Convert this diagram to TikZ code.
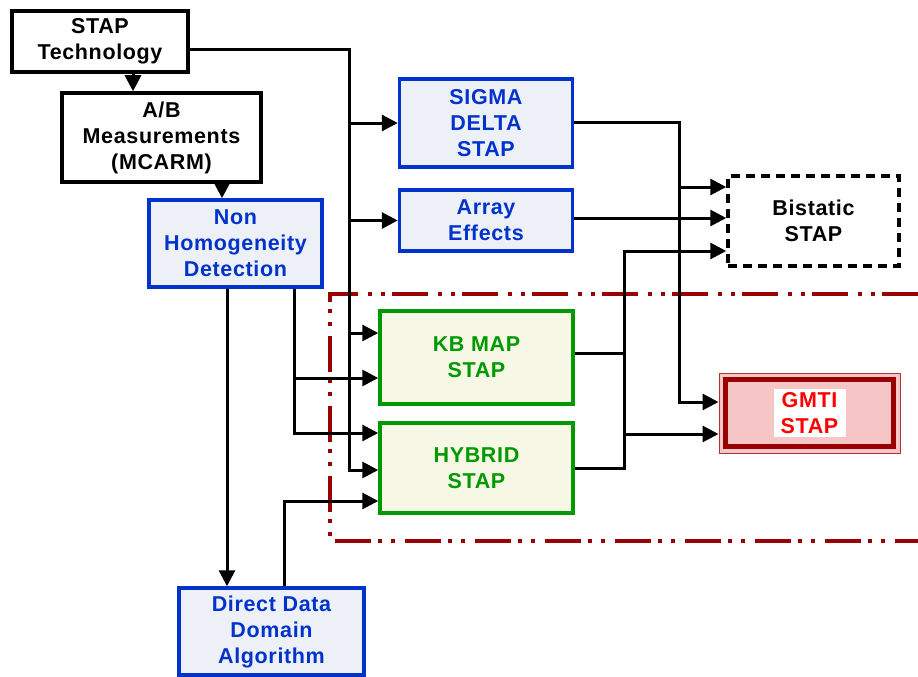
\documentclass[tikz,border=0pt]{standalone}
\usepackage{fontspec}
\setmainfont[LetterSpace=3]{Liberation Sans}
\usetikzlibrary{arrows.meta}
\definecolor{bblue}{HTML}{0033CC}
\definecolor{bfill}{HTML}{EEF0F7}
\definecolor{ggreen}{HTML}{009900}
\definecolor{gfill}{HTML}{F7F7E6}
\definecolor{dred}{HTML}{990000}
\definecolor{pfill}{HTML}{F6C6C6}
\definecolor{tred}{HTML}{FF0000}
\begin{document}
\begin{tikzpicture}[x=1pt,y=-1pt,
  txt/.style={font=\fontsize{21.5}{26}\selectfont\bfseries, align=center, inner sep=0pt},
  blackbox/.style={txt, draw=black, line width=3.5pt, fill=white},
  bluebox/.style={txt, draw=bblue, line width=3.5pt, fill=bfill, text=bblue},
  greenbox/.style={txt, draw=ggreen, line width=3.5pt, fill=gfill, text=ggreen},
  dashbox/.style={txt, draw=black, line width=3.5pt, dash pattern=on 9pt off 6pt, fill=white},
  conn/.style={line width=3pt, draw=black},
  arr/.style={conn, -{Triangle[length=16pt,width=16pt]}},
  reddash/.style={draw=dred, line width=4pt, dash pattern=on 36pt off 7pt on 4pt off 9pt on 4pt off 10pt}]
\useasboundingbox (0,0) rectangle (918,677);

% red dash-dot region
\draw[reddash] (918,294) -- (330,294) -- (330,541) -- (918,541);

% nodes
\node[blackbox, minimum width=176pt, minimum height=61pt] (tech) at (100,41.5) {STAP\\Technology};
\node[blackbox, minimum width=199pt, minimum height=89pt] (ab) at (161.5,137.5) {A/B\\Measurements\\(MCARM)};
\node[bluebox, minimum width=173pt, minimum height=87pt] (nhd) at (235.5,243.5) {Non\\Homogeneity\\Detection};
\node[bluebox, minimum width=173pt, minimum height=88pt] (sigma) at (486,123) {SIGMA\\DELTA\\STAP};
\node[bluebox, minimum width=173pt, minimum height=61pt] (array) at (486,220.5) {Array\\Effects};
\node[dashbox, minimum width=171pt, minimum height=90pt] (bist) at (813.5,221) {Bistatic\\STAP};
\node[greenbox, minimum width=193pt, minimum height=93pt] (kb) at (476.5,357.5) {KB MAP\\STAP};
\node[greenbox, minimum width=193pt, minimum height=90pt] (hyb) at (476.5,468) {HYBRID\\STAP};
\node[bluebox, minimum width=185pt, minimum height=87pt] (ddd) at (271.5,631.5) {Direct Data\\Domain\\Algorithm};
\node[draw=dred!80, line width=1pt, fill=pfill, minimum width=181pt, minimum height=80pt, inner sep=0pt] (gmti) at (809.5,413) {};
\draw[draw=dred, line width=5pt] ([xshift=7pt,yshift=-7pt]gmti.north west) rectangle ([xshift=-7pt,yshift=7pt]gmti.south east);
\node[txt, fill=white, text=tred, minimum width=72pt, minimum height=48pt] (gmtitxt) at (gmti.center) {GMTI\\STAP};

% helper coordinates
\coordinate (b1) at (349,50);
\coordinate (b2) at (679,0);
\coordinate (b3) at (624,0);
\coordinate (t1) at ([yshift=-8.5pt]tech.east);
\coordinate (t2) at ([xshift=33pt]tech.south);
\coordinate (a1) at ([xshift=60.5pt]ab.south);
\coordinate (n1) at ([xshift=-8.5pt]nhd.south);
\coordinate (n2) at ([xshift=58.5pt]nhd.south);
\coordinate (d1) at ([xshift=12.5pt]ddd.north);
\coordinate (kb1) at ([yshift=24.5pt]kb.west);
\coordinate (kb2) at ([yshift=-20.5pt]kb.west);
\coordinate (kbo) at ([yshift=4.5pt]kb.east);
\coordinate (hy1) at ([yshift=35pt]hyb.west);
\coordinate (hy2) at ([yshift=-2pt]hyb.west);
\coordinate (hy3) at ([yshift=-33pt]hyb.west);
\coordinate (bs1) at ([yshift=34pt]bist.west);
\coordinate (bs2) at ([yshift=3pt]bist.west);
\coordinate (bs3) at ([yshift=-30pt]bist.west);
\coordinate (g1) at ([yshift=11pt]gmti.west);
\coordinate (g2) at ([yshift=-21pt]gmti.west);
\coordinate (s1) at ([yshift=1pt]sigma.east);
\coordinate (ar1) at ([yshift=2.5pt]array.east);

% connectors
\draw[arr] (t2) -- (t2 |- ab.north);
\draw[arr] (a1) -- (a1 |- nhd.north);
\draw[arr] (t1) -| (hy2 -| b1) -- (hy2);
\draw[arr] (sigma.west -| b1) -- (sigma.west);
\draw[arr] (array.west -| b1) -- (array.west);
\draw[arr] (kb1 -| b1) -- (kb1);
\draw[arr] (n1) -- (n1 |- ddd.north);
\draw[arr] (n2) |- (hy1);
\draw[arr] (kb2 -| n2) -- (kb2);
\draw[arr] (d1) |- (hy3);
\draw[arr] (s1) -| (g1 -| b2) -- (g1);
\draw[arr] (bs1 -| b2) -- (bs1);
\draw[arr] (ar1) -- (bs2);
\draw[arr] (kbo) -| (bs3 -| b3) -- (bs3);
\draw[conn] (hyb.east) -| (kbo -| b3);
\draw[arr] (g2 -| b3) -- (g2);
\end{tikzpicture}
\end{document}
